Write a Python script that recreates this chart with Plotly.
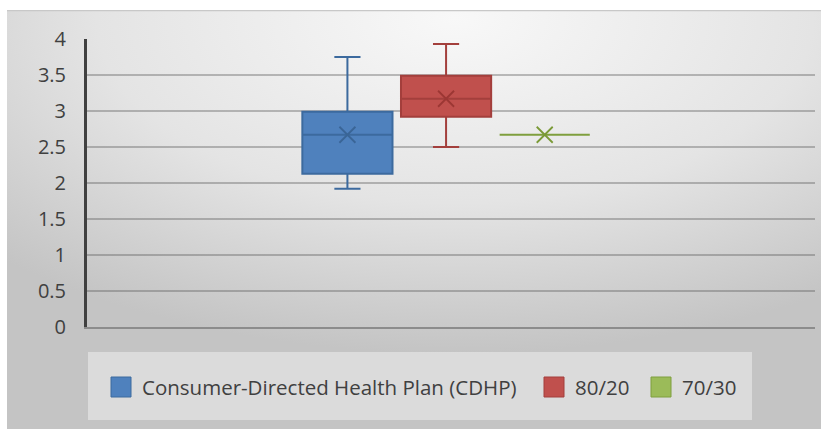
import plotly.graph_objects as go

# Summary statistics of the satisfaction score for each plan type
plans = ["Consumer-Directed Health Plan (CDHP)", "80/20", "70/30"]
lower_whisker = [1.92, 2.50, 2.67]
q1 = [2.13, 2.92, 2.67]
median = [2.67, 3.17, 2.67]
q3 = [2.99, 3.49, 2.67]
upper_whisker = [3.75, 3.93, 2.67]
mean = [2.67, 3.17, 2.67]

fill_colors = ["#4f81bd", "#c0504d", "#9bbb59"]
line_colors = ["#3c6a9e", "#a33f3c", "#7f9f3e"]
mean_colors = ["#3a6596", "#9c3734", "#7a9a36"]

y_ticks = [0, 0.5, 1, 1.5, 2, 2.5, 3, 3.5, 4]

fig = go.Figure()

for i, name in enumerate(plans):
    fig.add_trace(go.Box(
        name=name,
        x=[name],
        q1=[q1[i]],
        median=[median[i]],
        q3=[q3[i]],
        lowerfence=[lower_whisker[i]],
        upperfence=[upper_whisker[i]],
        width=0.914,
        fillcolor=fill_colors[i],
        line=dict(color=line_colors[i], width=2),
        whiskerwidth=0.29,
        boxpoints=False,
        showlegend=False,
        hoverinfo="skip",
    ))

for i, name in enumerate(plans):
    fig.add_trace(go.Scatter(
        x=[name],
        y=[mean[i]],
        mode="markers",
        marker=dict(symbol="x-thin-open", size=16, color=mean_colors[i],
                    line=dict(color=mean_colors[i], width=1.8)),
        showlegend=False,
        hoverinfo="skip",
    ))

# Soft radial shading behind the chart
bg_svg = (
    "data:image/svg+xml;utf8,"
    "<svg xmlns='http://www.w3.org/2000/svg' width='814' height='419' "
    "preserveAspectRatio='none'>"
    "<defs><radialGradient id='g' cx='0.55' cy='0.02' r='0.8'>"
    "<stop offset='0' stop-color='%23f8f8f8'/>"
    "<stop offset='0.55' stop-color='%23e4e4e4'/>"
    "<stop offset='1' stop-color='%23c4c4c4'/>"
    "</radialGradient></defs>"
    "<rect width='814' height='419' fill='url(%23g)'/>"
    "<line x1='0' y1='0.5' x2='814' y2='0.5' stroke='%23c8c8c8' stroke-width='1.5'/>"
    "</svg>"
)

# Legend panel (plot-area fractions: px offsets over a 728 x 288 area)
W, H = 728.0, 288.0
legend_shapes = [dict(
    type="rect", xref="paper", yref="paper",
    x0=1 / W, x1=665 / W, y0=-93 / H, y1=-25 / H,
    fillcolor="rgba(255,255,255,0.4)",
    line=dict(width=0),
    layer="below",
)]
legend_annotations = []
swatch_left = [24, 457, 564]
for i, name in enumerate(plans):
    legend_shapes.append(dict(
        type="rect", xref="paper", yref="paper",
        x0=swatch_left[i] / W, x1=(swatch_left[i] + 20) / W,
        y0=-70 / H, y1=-50 / H,
        fillcolor=fill_colors[i],
        line=dict(color=line_colors[i], width=1),
    ))
    legend_annotations.append(dict(
        xref="paper", yref="paper",
        x=(swatch_left[i] + 29) / W, y=-60 / H,
        xanchor="left", yanchor="middle",
        text=name, showarrow=False,
        font=dict(size=20.5, color="#404040"),
    ))

fig.update_layout(
    width=821,
    height=429,
    margin=dict(l=87, r=6, t=39, b=102),
    paper_bgcolor="white",
    plot_bgcolor="rgba(0,0,0,0)",
    boxmode="overlay",
    showlegend=False,
    font=dict(family="Open Sans, sans-serif", color="#404040"),
    images=[dict(
        source=bg_svg,
        xref="paper", yref="paper",
        x=-80 / W, y=317 / H,
        sizex=814 / W, sizey=419 / H,
        sizing="stretch",
        xanchor="left", yanchor="top",
        layer="below",
    )],
    shapes=legend_shapes,
    annotations=legend_annotations,
    xaxis=dict(
        type="category",
        categoryorder="array",
        categoryarray=plans,
        range=[-2.64, 4.74],
        showticklabels=False,
        showgrid=False,
        zeroline=False,
        showline=True,
        linecolor="#8c8c8c",
        linewidth=1.5,
        ticks="",
        fixedrange=True,
    ),
    yaxis=dict(
        range=[0, 4],
        tickvals=y_ticks,
        ticktext=[f"{v:g}" for v in y_ticks],
        tickfont=dict(size=20, color="#404040"),
        ticks="outside",
        ticklen=14,
        tickcolor="rgba(0,0,0,0)",
        showgrid=True,
        gridcolor="rgba(90,90,90,0.38)",
        gridwidth=1.5,
        zeroline=False,
        showline=True,
        linecolor="#404040",
        linewidth=3,
        fixedrange=True,
    ),
)

fig.write_html("out.html")
